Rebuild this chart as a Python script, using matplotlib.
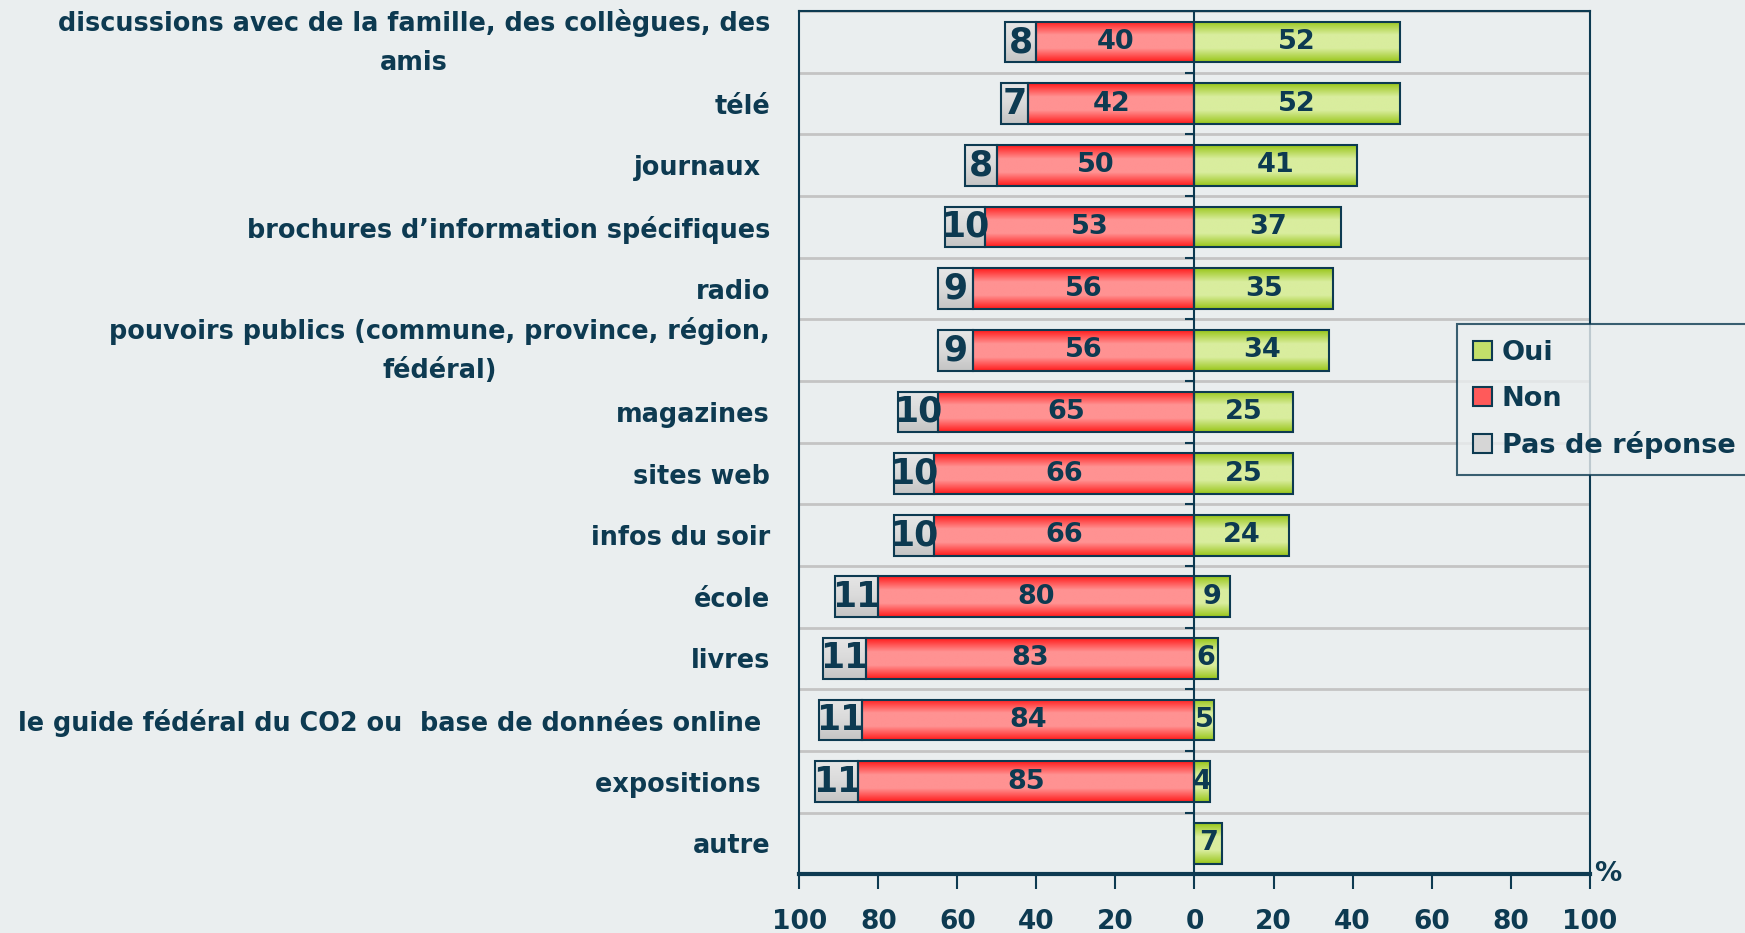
import numpy as np
import matplotlib
matplotlib.use('Agg')
import matplotlib.pyplot as plt
from matplotlib.colors import LinearSegmentedColormap
from matplotlib.patches import Patch

# data, top to bottom
categories = ['discussions avec de la famille, des collègues, des\namis',
              'télé',
              'journaux ',
              'brochures d\u2019information spécifiques',
              'radio',
              'pouvoirs publics (commune, province, région,\nfédéral)',
              'magazines',
              'sites web',
              'infos du soir',
              'école',
              'livres',
              'le guide fédéral du CO2 ou  base de données online ',
              'expositions ',
              'autre']
oui = [52, 52, 41, 37, 35, 34, 25, 25, 24, 9, 6, 5, 4, 7]
non = [40, 42, 50, 53, 56, 56, 65, 66, 66, 80, 83, 84, 85, 0]
pas_de_reponse = [8, 7, 8, 10, 9, 9, 10, 10, 10, 11, 11, 11, 11, 0]
xticks = [-100, -80, -60, -40, -20, 0, 20, 40, 60, 80, 100]

bg = '#EAEEEF'
navy = '#0D3A51'
plt.rcParams['font.family'] = 'DejaVu Sans'
plt.rcParams['font.weight'] = 'bold'

fig = plt.figure(figsize=(17.45, 9.33), dpi=100, facecolor=bg)
ax = fig.add_axes([0.458, 0.063, 0.453, 0.925])
ax.set_facecolor(bg)

n = len(categories)
y = np.arange(n)
oui = np.array(oui, dtype=float)
non = np.array(non, dtype=float)
pdr = np.array(pas_de_reponse, dtype=float)

grads = {
    'oui': LinearSegmentedColormap.from_list('g', ['#99C61A', '#D9ED9E', '#D9ED9E', '#99C61A']),
    'non': LinearSegmentedColormap.from_list('r', ['#FF1C1C', '#FF9292', '#FF9292', '#FF1C1C']),
    'pdr': LinearSegmentedColormap.from_list('k', ['#E6E6E6', '#DADADA', '#C4C4C4']),
}
grad = np.linspace(0, 1, 100).reshape(-1, 1)

def gradient_bars(left, width, key, fsize):
    mask = width > 0
    bars = ax.barh(y[mask], width[mask], left=left[mask], height=0.66, color='none',
                   edgecolor=navy, linewidth=1.5, zorder=3)
    for p, w in zip(bars.patches, width[mask]):
        x0, y0 = p.get_x(), p.get_y()
        ax.imshow(grad, extent=[x0, x0 + p.get_width(), y0 + p.get_height(), y0],
                  aspect='auto', cmap=grads[key], zorder=2, interpolation='bilinear')
        ax.text(x0 + p.get_width() / 2, y0 + p.get_height() / 2, '%d' % w,
                ha='center', va='center', fontsize=fsize, color=navy, zorder=4)
    return bars

gradient_bars(np.zeros(n), oui, 'oui', 19.5)
gradient_bars(-non, non, 'non', 19.5)
gradient_bars(-non - pdr, pdr, 'pdr', 25)

ax.set_xlim(-100, 100)
ax.set_ylim(n - 0.5, -0.5)

# row separators and small ticks on the zero line
ax.set_yticks(np.arange(n + 1) - 0.5, minor=True)
ax.grid(which='minor', axis='y', color='#C4C4C4', linewidth=2, zorder=0)
ax.hlines(np.arange(1, n) - 0.5, -2.5, 0, color=navy, linewidth=1.5, zorder=3)
ax.axvline(0, color=navy, linewidth=1.5, zorder=3)

ax.set_yticks(y)
ax.set_yticklabels(categories, fontsize=18.4, color=navy, linespacing=1.65)
for lab in ax.get_yticklabels():
    lab.set_multialignment('center')
    if '\n' in lab.get_text():
        lab.set_verticalalignment('center')
ax.tick_params(axis='y', which='both', length=0, pad=21)

ax.set_xticks(xticks)
ax.set_xticklabels([str(abs(t)) for t in xticks], fontsize=19, color=navy)
ax.tick_params(axis='x', direction='out', length=11, width=1.5, color=navy, pad=14)

for s in ['left', 'top', 'right']:
    ax.spines[s].set_color(navy)
    ax.spines[s].set_linewidth(1.5)
ax.spines['bottom'].set_color(navy)
ax.spines['bottom'].set_linewidth(3)

ax.text(1.005, 0, '%', transform=ax.transAxes, ha='left', va='center', fontsize=19.5, color=navy)

handles = [Patch(facecolor='#C2E06A', edgecolor=navy, linewidth=1.5),
           Patch(facecolor='#FF5A5A', edgecolor=navy, linewidth=1.5),
           Patch(facecolor='#D6D6D6', edgecolor=navy, linewidth=1.5)]
leg = fig.legend(handles, ['Oui', 'Non', 'Pas de réponse'], loc='upper left',
                 bbox_to_anchor=(0.835, 0.653), fontsize=19.5, frameon=True, fancybox=False,
                 handlelength=0.7, handleheight=0.7, handletextpad=0.35, labelspacing=0.72,
                 borderpad=0.6, borderaxespad=0)
leg.get_frame().set_edgecolor(navy)
leg.get_frame().set_facecolor(bg)
leg.get_frame().set_linewidth(1.5)
for t in leg.get_texts():
    t.set_color(navy)

fig.savefig('out.png', dpi=100, facecolor=bg)
